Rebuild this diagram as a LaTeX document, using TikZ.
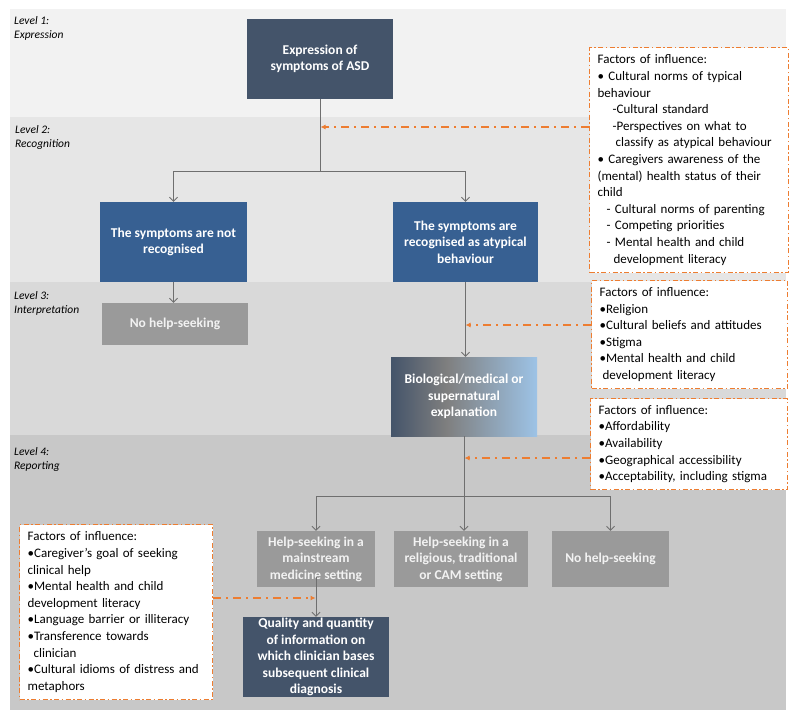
\documentclass[tikz,border=0pt]{standalone}
\usepackage{fontspec}
\setmainfont{Carlito}
\usetikzlibrary{arrows.meta}
\definecolor{slate}{HTML}{44546A}
\definecolor{blueb}{HTML}{376092}
\definecolor{grayb}{HTML}{9A9A9A}
\definecolor{orng}{HTML}{ED7D31}
\definecolor{bandA}{HTML}{F2F2F2}
\definecolor{bandB}{HTML}{E6E6E6}
\definecolor{bandC}{HTML}{D9D9D9}
\definecolor{bandD}{HTML}{C8C8C8}
\definecolor{lblue}{HTML}{9DC3E6}
\definecolor{midgray}{HTML}{7F7F7F}
\definecolor{connc}{HTML}{6F6F6F}
\pgfdeclarehorizontalshading{bioshade}{100bp}{color(0bp)=(slate); color(25bp)=(slate); color(44bp)=(midgray); color(75bp)=(lblue); color(100bp)=(lblue)}
\tikzset{
  mainbox/.style={text=white, font=\fontsize{13.5}{16.6}\selectfont\bfseries, align=center, inner sep=1pt},
  darkbox/.style={mainbox, fill=slate},
  bluebox/.style={mainbox, fill=blueb},
  graybox/.style={mainbox, fill=grayb, text=white!95!black},
  factor/.style={draw=orng, line width=1.3pt, dash pattern=on 5pt off 2.5pt on 1.5pt off 2.5pt, fill=white, anchor=north west, align=left, font=\fontsize{13}{16.6}\selectfont, inner xsep=8pt, inner ysep=0pt},
  lvl/.style={anchor=north west, align=left, font=\fontsize{11.5}{14}\selectfont\itshape, inner sep=0pt},
  conn/.style={draw=connc, line width=0.8pt},
  arr/.style={conn, -{Straight Barb[length=4pt,width=8pt]}},
  infl/.style={draw=orng, line width=1.4pt, dash pattern=on 8pt off 5pt on 2pt off 5pt, -{Latex[length=5pt,width=5pt]}}
}
\begin{document}
\begin{tikzpicture}[x=1pt,y=-1pt]
\useasboundingbox (0,0) rectangle (800,723);
% bands
\fill[bandA] (10,9) rectangle (786,117);
\fill[bandB] (10,117) rectangle (786,282);
\fill[bandC] (10,282) rectangle (786,435);
\fill[bandD] (10,435) rectangle (786,710);
% level labels
\node[lvl] (l1) at (14,16.5) {Level 1:\\Expression};
\node[lvl] (l2) at (15,125.5) {Level 2:\\Recognition};
\node[lvl] (l3) at (14,291.5) {Level 3:\\Interpretation};
\node[lvl] (l4) at (14,447.5) {Level 4:\\Reporting};
% main nodes
\node[darkbox, minimum width=146pt, minimum height=80pt] (expr) at (320,59) {Expression of\\symptoms of ASD};
\node[bluebox, minimum width=147pt, minimum height=80pt] (notrec) at (173.5,242) {The symptoms are not\\recognised};
\node[bluebox, minimum width=145pt, minimum height=80pt] (rec) at (465.5,242) {The symptoms are\\recognised as atypical\\behaviour};
\node[graybox, minimum width=146pt, minimum height=42pt] (nohelpA) at (175,324) {No help-seeking};
\node[mainbox, shading=bioshade, minimum width=146pt, minimum height=79pt] (bio) at (464,396.5) {Biological/medical or\\supernatural\\explanation};
\node[graybox, minimum width=118pt, minimum height=56pt] (mains) at (316,559) {Help-seeking in a\\mainstream\\medicine setting};
\node[graybox, minimum width=134pt, minimum height=56pt] (relig) at (461,559) {Help-seeking in a\\religious, traditional\\or CAM setting};
\node[graybox, minimum width=117pt, minimum height=56pt] (nohelpB) at (610.5,559) {No help-seeking};
\node[darkbox, minimum width=146pt, minimum height=80pt, inner sep=0pt] (qual) at (316,657) {Quality and quantity\\of information on\\which clinician bases\\subsequent clinical\\diagnosis};
% factor boxes
\node[factor, text width=183pt, minimum height=225pt] (f1) at (589,47) {Factors of influence:\\
• Cultural norms of typical\\
behaviour\\
\hspace*{15pt}-Cultural standard\\
\hspace*{15pt}-Perspectives on what to\\
\hspace*{18pt}classify as atypical behaviour\\
• Caregivers awareness of the\\
(mental) health status of their\\
child\\
\hspace*{9pt}- Cultural norms of parenting\\
\hspace*{9pt}- Competing priorities\\
\hspace*{9pt}- Mental health and child\\
\hspace*{16pt}development literacy};
\node[factor, text width=180pt, minimum height=108pt] (f2) at (591,280) {Factors of influence:\\
•Religion\\
•Cultural beliefs and attitudes\\
•Stigma\\
•Mental health and child\\
\hspace*{3pt}development literacy};
\node[factor, text width=181pt, minimum height=91pt] (f3) at (590,398) {Factors of influence:\\
•Affordability\\
•Availability\\
•Geographical accessibility\\
•Acceptability, including stigma};
\node[factor, text width=177pt, minimum height=175pt] (f4) at (19,524) {Factors of influence:\\
•Caregiver’s goal of seeking\\
clinical help\\
•Mental health and child\\
development literacy\\
•Language barrier or illiteracy\\
•Transference towards\\
\hspace*{6pt}clinician\\
•Cultural idioms of distress and\\
metaphors};
% connectors
\coordinate (j1) at (320,171);
\draw[conn] (expr.south) -- (j1);
\draw[arr] (j1) -| (notrec.north);
\draw[arr] (j1) -| (rec.north);
\draw[arr] (notrec.south) -- (notrec.south |- nohelpA.north);
\draw[arr] (rec.south) -- (rec.south |- bio.north);
\coordinate (j2) at (464,496);
\draw[conn] (bio.south) -- (j2);
\draw[arr] (j2) -| (mains.north);
\draw[arr] (j2) -- (j2 |- relig.north);
\draw[arr] (j2) -| (nohelpB.north);
\draw[arr] ([yshift=10pt]mains.south) -- (qual.north);
% influence arrows
\coordinate (t1) at (320.5,127);
\coordinate (t2) at (465.5,325);
\coordinate (t3) at (464.5,458);
\coordinate (t4) at (315.5,598);
\draw[infl] (f1.west |- t1) -- (t1);
\draw[infl] (f2.west |- t2) -- (t2);
\draw[infl] (f3.west |- t3) -- (t3);
\draw[infl] (f4.east |- t4) -- (t4);
\end{tikzpicture}
\end{document}
